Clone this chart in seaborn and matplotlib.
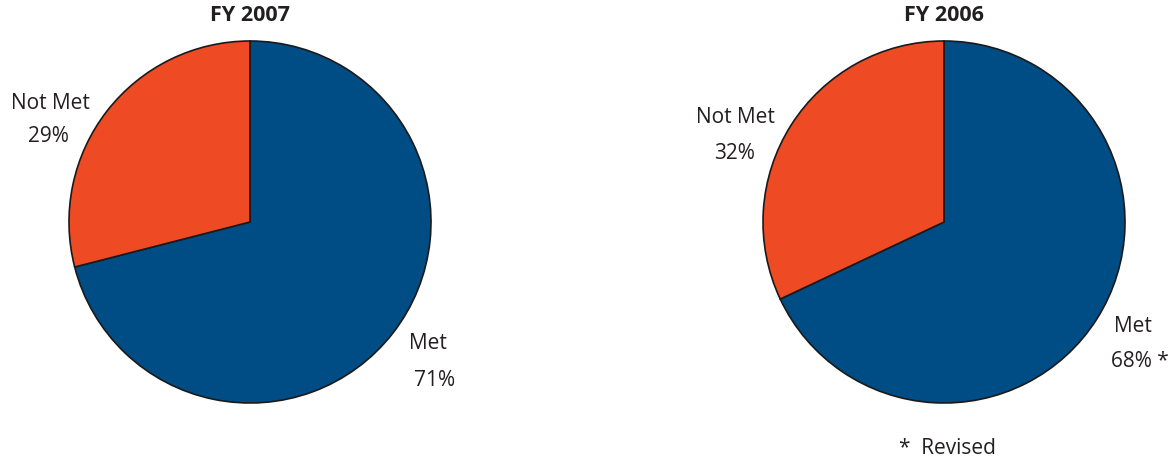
import matplotlib
matplotlib.use("Agg")
import matplotlib.pyplot as plt
import seaborn as sns

categories = ["Met", "Not Met"]
fy2007_values = [71, 29]
fy2006_values = [68, 32]
titles = ["FY 2007", "FY 2006"]
colors = sns.color_palette(["#004C84", "#EE4A24"])

sns.set_theme(style="white")
plt.rcParams["font.family"] = ["Open Sans", "DejaVu Sans"]

W, H = 1172, 462
fig = plt.figure(figsize=(W / 100, H / 100), dpi=100)
fig.patch.set_facecolor("white")

R = 181

def make_ax(cx, cy):
    return fig.add_axes([(cx - R) / W, (H - cy - R) / H, 2 * R / W, 2 * R / H])

ax1 = make_ax(250, 222)
ax2 = make_ax(944, 222)

for ax, vals, title in [(ax1, fy2007_values, titles[0]), (ax2, fy2006_values, titles[1])]:
    ax.pie(vals, colors=colors, startangle=90, counterclock=False,
           wedgeprops=dict(edgecolor="#1a1a1a", linewidth=1.2))
    ax.set_xlim(-1, 1)
    ax.set_ylim(-1, 1)
    ax.set_aspect("equal")
    ax.axis("off")
    ax.text(0, 1.14, title, ha="center", va="center", fontsize=15.5,
            fontweight="bold", color="#231f20")

tc = "#231f20"
fs = 15
# FY 2007 labels
ax1.text(-1.105, 0.657, "Not Met", ha="center", va="center", fontsize=fs, color=tc)
ax1.text(-1.116, 0.47, f"{fy2007_values[1]}%", ha="center", va="center", fontsize=fs, color=tc)
ax1.text(0.983, -0.669, "Met", ha="center", va="center", fontsize=fs, color=tc)
ax1.text(1.017, -0.878, f"{fy2007_values[0]}%", ha="center", va="center", fontsize=fs, color=tc)
# FY 2006 labels
ax2.text(-1.155, 0.58, "Not Met", ha="center", va="center", fontsize=fs, color=tc)
ax2.text(-1.155, 0.381, f"{fy2006_values[1]}%", ha="center", va="center", fontsize=fs, color=tc)
ax2.text(1.044, -0.58, "Met", ha="center", va="center", fontsize=fs, color=tc)
ax2.text(1.083, -0.768, f"{fy2006_values[0]}% *", ha="center", va="center", fontsize=fs, color=tc)
ax2.text(0.02, -1.249, "*  Revised", ha="center", va="center", fontsize=fs, color=tc)

fig.savefig("out.png", dpi=100)
